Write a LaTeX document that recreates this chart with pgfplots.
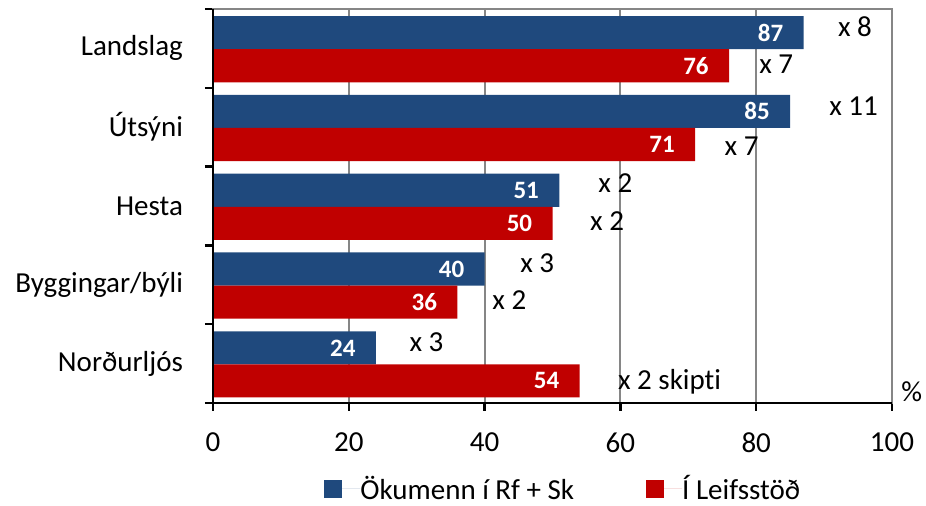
\documentclass[border=0pt]{standalone}
\usepackage{fontspec}
\setmainfont{Carlito}[Ligatures=NoCommon]
\usepackage{pgfplots}
\pgfplotsset{compat=1.18}
\definecolor{cblue}{RGB}{31,73,125}
\definecolor{cred}{RGB}{192,0,0}
\definecolor{cgrid}{RGB}{134,134,134}
\newcommand\fs{\fontsize{14.5pt}{17pt}\selectfont}
\newcommand\fb{\fontsize{12.5pt}{15pt}\selectfont\bfseries}
\begin{document}
\begin{tikzpicture}
\begin{axis}[
  name=ax,
  scale only axis, width=339.5pt, height=197pt,
  clip=false,
  xbar, bar width=0.42,
  xmin=0, xmax=100, ymin=-0.5, ymax=4.5,
  xtick={0,20,...,100},
  ytick={0,...,4},
  yticklabels={Norðurljós,Byggingar/býli,Hesta,Útsýni,Landslag},
  minor ytick={-0.5,0.5,...,4.5},
  tick pos=left,
  xmajorgrids, grid style={cgrid, line width=1pt},
  axis line style={cgrid, line width=1pt},
  tick align=outside, major tick length=4pt, minor tick length=4pt,
  tick style={black, line width=1.2pt},
  major y tick style={draw=none},
  ticklabel style={font=\fs},
  /pgf/number format/assume math mode=true,
  xticklabel style={yshift=-7.5pt},
  yticklabel style={xshift=-7.5pt},
  nodes near coords,
  every node near coord/.append style={anchor=east, inner sep=0pt, xshift=-10pt, white, font=\fb},
  legend columns=2,
  legend style={at={(0.1635,-0.218)}, anchor=west, draw=none, fill=none, inner sep=0pt, font=\fs,
    nodes={inner sep=0pt},
    /tikz/every even column/.append style={column sep=36pt}},
  legend image code/.code={\fill[#1] (0pt,-4.5pt) rectangle (9pt,4.5pt); \path (0pt,0pt) -- (18pt,0pt);},
]
\addplot[fill=cblue, draw=none, bar shift=0.2] coordinates {(87,4) (85,3) (51,2) (40,1) (24,0)};
\addlegendentry{Ökumenn í Rf + Sk}
\addplot[fill=cred, draw=none, bar shift=-0.22] coordinates {(76,4) (71,3) (50,2) (36,1) (54,0)};
\addlegendentry{Í Leifsstöð}
\draw[black, line width=1.2pt] (rel axis cs:0,1) -- (rel axis cs:0,0) -- (rel axis cs:1,0);
\begin{scope}[every node/.style={anchor=west, inner sep=0pt, font=\fs}]
\node at (axis cs:92.0,4.27) {x 8};
\node at (axis cs:80.4,3.80) {x 7};
\node at (axis cs:90.7,3.27) {x 11};
\node at (axis cs:75.3,2.76) {x 7};
\node at (axis cs:56.7,2.29) {x 2};
\node at (axis cs:55.5,1.81) {x 2};
\node at (axis cs:45.2,1.28) {x 3};
\node at (axis cs:41.1,0.81) {x 2};
\node at (axis cs:28.9,0.27) {x 3};
\node at (axis cs:59.6,-0.23) {x 2 skipti};
\end{scope}
\node[anchor=center, inner sep=0pt, font=\fs] at (rel axis cs:1.029,0.028) {\%};
\end{axis}
\pgfresetboundingbox
\useasboundingbox ([shift={(-106.5pt,-51.5pt)}]ax.south west) rectangle ([shift={(17pt,4.5pt)}]ax.north east);
\end{tikzpicture}
\end{document}
